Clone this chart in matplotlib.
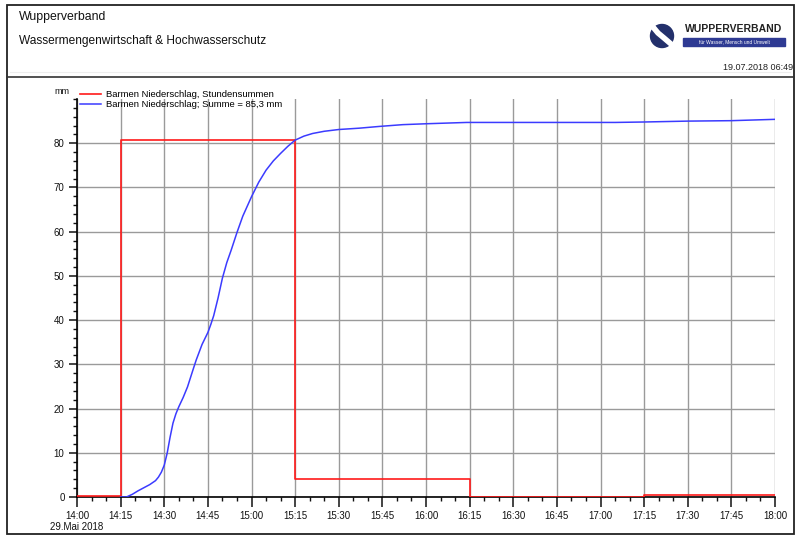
import matplotlib
matplotlib.use('Agg')
import matplotlib.pyplot as plt
import matplotlib.dates as mdates
import matplotlib.ticker as mticker
from matplotlib.patches import Rectangle, Circle
import pandas as pd

plt.rcParams['font.family'] = ['Liberation Sans', 'DejaVu Sans']

# hourly precipitation sums (step series)
hour_times = ['14:00', '14:15', '15:15', '16:15', '17:15', '18:00']
hour_sums = [0.2, 80.7, 4.0, 0.0, 0.5, 0.5]

# cumulative precipitation
sum_times = ['14:15', '14:17', '14:19', '14:21', '14:23', '14:25', '14:27', '14:28',
             '14:29', '14:30', '14:31', '14:32', '14:33', '14:34', '14:35', '14:36:30',
             '14:38', '14:40', '14:41', '14:43', '14:45', '14:46', '14:47', '14:48:30',
             '14:50', '14:51:30', '14:53', '14:55', '14:57', '15:00', '15:02:30', '15:05',
             '15:07:30', '15:10', '15:12:30', '15:15', '15:18', '15:21', '15:25', '15:30',
             '15:37', '15:44', '15:52', '16:00', '16:14', '17:05', '17:15', '17:30',
             '17:45', '18:00']
sum_values = [0.0, 0.0, 0.6, 1.4, 2.1, 2.8, 3.7, 4.5,
              5.6, 7.2, 9.9, 13.5, 16.7, 18.8, 20.4, 22.5,
              24.9, 29.0, 31.0, 34.5, 37.2, 39.0, 41.0, 45.0,
              49.5, 53.0, 55.8, 59.8, 63.5, 67.9, 71.2, 73.9,
              76.0, 77.7, 79.3, 80.7, 81.6, 82.2, 82.7, 83.1,
              83.4, 83.8, 84.2, 84.4, 84.7, 84.7, 84.8, 85.0,
              85.1, 85.4]
total = 85.3
day = '2018-05-29 '

t_hour = pd.to_datetime([day + t for t in hour_times], format='mixed')
t_sum = pd.to_datetime([day + t for t in sum_times], format='mixed')

W, H = 796, 536
fig = plt.figure(figsize=(W / 100, H / 100), dpi=100)

# header / frame drawn in pixel coordinates
bg = fig.add_axes([0, 0, 1, 1])
bg.set_xlim(0, W)
bg.set_ylim(H, 0)
bg.axis('off')
bg.add_patch(Rectangle((7, 5), 787, 529, fill=False, edgecolor='#222222', lw=1.3))
bg.plot([7, 794], [77, 77], color='#333333', lw=1.2)
bg.plot([10, 790], [72, 72], color='#eeeeee', lw=0.8)
bg.text(19, 17, 'Wupperverband', fontsize=8.8, va='center', ha='left', color='#111111')
bg.text(19, 41, 'Wassermengenwirtschaft & Hochwasserschutz', fontsize=8.6,
        va='center', ha='left', color='#111111')
bg.text(793, 68, '19.07.2018 06:49', fontsize=6.5, va='center', ha='right', color='#222222')
# logo
bg.add_patch(Circle((662, 36), 11.5, color='#23306b'))
bg.plot([653, 658, 664, 671], [27, 33, 38, 44], color='white', lw=4, solid_capstyle='round')
bg.text(734, 29, 'WUPPERVERBAND', fontsize=7.5, va='center', ha='center', color='#222222',
        fontweight='bold')
bg.add_patch(Rectangle((683, 38), 102, 8, color='#2e3a93'))
bg.text(734, 42, 'für Wasser, Mensch und Umwelt', fontsize=3.5, va='center',
        ha='center', color='white')

ax = fig.add_axes([77 / W, 1 - 497 / H, 698 / W, 398 / H])
ax.patch.set_alpha(0)

ax.plot(t_hour, hour_sums, drawstyle='steps-post', color='#ff1a1a', lw=1.2,
        label='Barmen Niederschlag, Stundensummen', zorder=3)
ax.plot(t_sum, sum_values, color='#3b3bff', lw=1.1,
        label='Barmen Niederschlag; Summe = %s mm' % str(total).replace('.', ','), zorder=4)

ax.set_xlim(t_hour[0], t_hour[-1])
ax.set_ylim(0, 90)

ax.xaxis.set_major_locator(mdates.MinuteLocator(byminute=[0, 15, 30, 45]))
ax.xaxis.set_minor_locator(mdates.MinuteLocator(byminute=range(0, 60, 5)))


def fmt_time(x, pos):
    d = mdates.num2date(x)
    s = d.strftime('%H:%M')
    if pos == 0:
        s += '\n29.Mai 2018'
    return s


ax.xaxis.set_major_formatter(mticker.FuncFormatter(fmt_time))
ax.set_yticks(range(0, 81, 10))
ax.yaxis.set_minor_locator(mticker.MultipleLocator(2))

ax.grid(True, which='major', color='#9a9a9a', lw=1)
for s in ['top', 'right']:
    ax.spines[s].set_visible(False)
ax.spines['left'].set_linewidth(1.2)
ax.spines['bottom'].set_linewidth(1.2)
ax.tick_params(which='major', length=6, width=1.1, labelsize=7, colors='#111111', pad=3)
ax.tick_params(which='minor', length=3, width=1, colors='#111111')
ax.tick_params(axis='x', which='major', length=7)
for lab in ax.get_xticklabels():
    lab.set_linespacing(1.1)

fig.text(62 / W, 1 - 91 / H, 'mm', fontsize=6.5, ha='center', va='center', color='#111111')
fig.legend(loc='upper left', bbox_to_anchor=(80 / W, 1 - 90 / H), frameon=False,
           fontsize=6.8, handlelength=2.2, labelspacing=0.12, borderpad=0,
           handletextpad=0.6, borderaxespad=0)

fig.savefig('out.png', dpi=100)
